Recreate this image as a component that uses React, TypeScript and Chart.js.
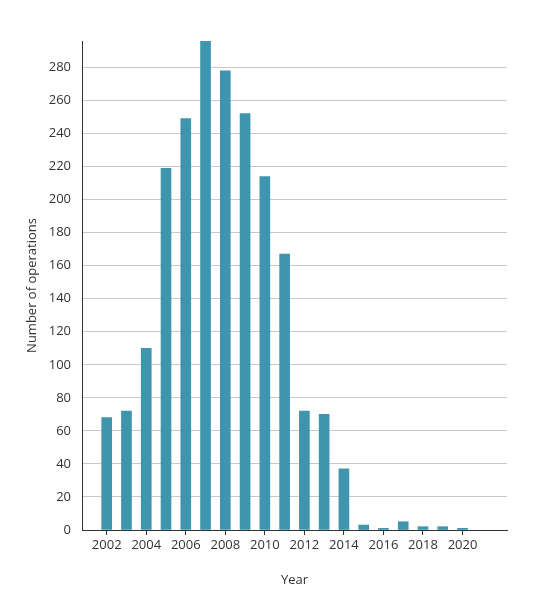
import { useEffect, useRef } from "react";
import { Chart, registerables } from "chart.js";

Chart.register(...registerables);

const years = [2002, 2003, 2004, 2005, 2006, 2007, 2008, 2009, 2010, 2011, 2012, 2013, 2014, 2015, 2016, 2017, 2018, 2019, 2020];
const operations = [68, 72, 110, 219, 249, 296, 278, 252, 214, 167, 72, 70, 37, 3, 1, 5, 2, 2, 1];
const yearTicks = [2002, 2004, 2006, 2008, 2010, 2012, 2014, 2016, 2018, 2020];

const FONT = "'Open Sans', 'DejaVu Sans', sans-serif";

function OperationsChart() {
  const chartRef = useRef<HTMLCanvasElement>(null);
  const chartInstance = useRef<Chart | null>(null);

  useEffect(() => {
    if (!chartRef.current) return;
    const ctx = chartRef.current.getContext("2d");
    if (!ctx) return;

    if (chartInstance.current) {
      chartInstance.current.destroy();
    }

    chartInstance.current = new Chart(ctx, {
      type: "bar",
      data: {
        datasets: [{
          label: "Number of operations",
          data: years.map((y, i) => ({ x: y, y: operations[i] })),
          backgroundColor: "#3f95ae",
          barThickness: 10,
          borderWidth: 0,
        }],
      },
      options: {
        animation: false,
        responsive: true,
        maintainAspectRatio: false,
        layout: {
          padding: { left: 20, right: 27, top: 41, bottom: 0 },
        },
        plugins: {
          legend: { display: false },
          tooltip: { enabled: false },
        },
        scales: {
          x: {
            type: "linear",
            offset: false,
            min: 2000.75,
            max: 2022.25,
            afterBuildTicks: (scale: any) => {
              scale.ticks = yearTicks.map(v => ({ value: v }));
            },
            afterFit: (scale: any) => {
              scale.height = 70;
            },
            ticks: {
              color: "#333",
              padding: 2,
              maxRotation: 0,
              font: { family: FONT, size: 13 },
              callback: (v: any) => String(v),
            },
            grid: {
              offset: false,
              drawOnChartArea: false,
              drawTicks: true,
              tickLength: 5,
              color: "#333",
            },
            border: { color: "#333", width: 1 },
            title: {
              display: true,
              text: "Year",
              color: "#333",
              font: { family: FONT, size: 13 },
              padding: { top: 0, bottom: 12 },
            },
          },
          y: {
            min: 0,
            max: 296,
            afterBuildTicks: (scale: any) => {
              scale.ticks = scale.ticks.filter((t: any) => t.value % 20 === 0);
            },
            afterFit: (scale: any) => {
              scale.width = 62;
            },
            ticks: {
              stepSize: 20,
              color: "#333",
              padding: 11,
              font: { family: FONT, size: 13 },
            },
            grid: {
              drawTicks: false,
              color: "#c8c8c8",
            },
            border: { color: "#333", width: 1 },
            title: {
              display: true,
              text: "Number of operations",
              color: "#333",
              font: { family: FONT, size: 13 },
              padding: { top: 4, bottom: 0 },
            },
          },
        },
      },
    });

    return () => {
      if (chartInstance.current) {
        chartInstance.current.destroy();
        chartInstance.current = null;
      }
    };
  }, []);

  return <canvas ref={chartRef} />;
}

export default function App() {
  return (
    <div style={{ position: "fixed", left: 0, top: 0, width: 534, height: 600, background: "#fff" }}>
      <OperationsChart />
    </div>
  );
}
